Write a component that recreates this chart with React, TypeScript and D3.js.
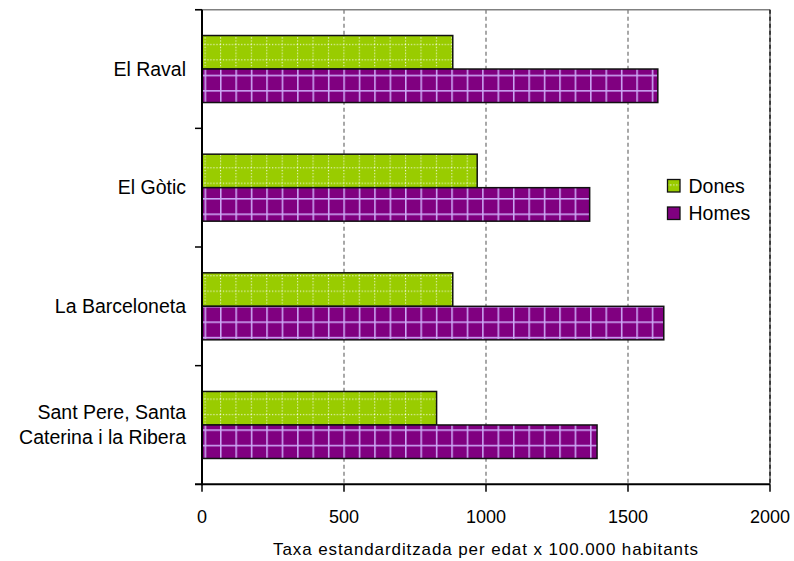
import React from "react";
import * as d3 from "d3";

const categories = ["El Raval", "El Gòtic", "La Barceloneta", "Sant Pere, Santa\nCaterina i la Ribera"];
const series = ["Dones", "Homes"];
const dones = [883, 969, 883, 826];
const homes = [1605, 1365, 1626, 1391];
const xTicks = [0, 500, 1000, 1500, 2000];
const xTitle = "Taxa estandarditzada per edat x 100.000 habitants";

const W = 794, H = 561;
const L = 202, R = 770, T = 9.7, B = 484.3;
const FONT = "'Liberation Sans', Arial, sans-serif";

export default function App() {
  const x = d3.scaleLinear().domain([0, 2000]).range([L, R]);
  const y = d3.scaleBand<string>().domain(categories).range([T, B]).padding(0);
  const groupH = 67;
  const inner = d3.scaleBand<string>().domain(series).range([0, groupH]).padding(0);
  const values = [dones, homes];
  const fills = ["url(#pGreen)", "url(#pPurple)"];
  const legendFills = ["url(#lgGreen)", "#800080"];
  const P = 15.42;

  return (
    <svg width={W} height={H} style={{ position: "absolute", left: 0, top: 0, background: "#fff" }} fontFamily={FONT}>
      <defs>
        <pattern id="pGreen" patternUnits="userSpaceOnUse" width={P} height={P} x={4.1} y={13}>
          <rect width={P} height={P} fill="#99CC00" />
          <line x1={0} y1={0.5} x2={P} y2={0.5} stroke="#ffffff" strokeWidth={1.2} strokeDasharray="1 2" opacity={0.9} />
          <line x1={0.5} y1={0} x2={0.5} y2={P} stroke="#ffffff" strokeWidth={1.2} strokeDasharray="1 2" opacity={0.9} />
        </pattern>
        <pattern id="lgGreen" patternUnits="userSpaceOnUse" width={P} height={P} x={666} y={174.5}>
          <rect width={P} height={P} fill="#99CC00" />
          <line x1={0} y1={0.5} x2={P} y2={0.5} stroke="#ffffff" strokeWidth={1.2} strokeDasharray="1 2" opacity={0.9} />
        </pattern>
        <pattern id="pPurple" patternUnits="userSpaceOnUse" width={P} height={P} x={4.1} y={13}>
          <rect width={P} height={P} fill="#800080" />
          <line x1={0} y1={0.75} x2={P} y2={0.75} stroke="#CCA8F5" strokeWidth={1.6} />
          <line x1={0.75} y1={0} x2={0.75} y2={P} stroke="#CCA8F5" strokeWidth={1.6} />
        </pattern>
      </defs>

      {/* gridlines */}
      {xTicks.slice(1, -1).map((t) => (
        <line key={t} x1={x(t)} x2={x(t)} y1={T} y2={B} stroke="#8c8c8c" strokeWidth={1.5} strokeDasharray="4 3" />
      ))}
      {/* plot border top and right */}
      <line x1={195} x2={R} y1={T} y2={T} stroke="#808080" strokeWidth={1.5} />
      <line x1={R} x2={R} y1={T} y2={B} stroke="#666" strokeWidth={1.5} />
      <line x1={R} x2={R} y1={T} y2={B} stroke="#222" strokeWidth={1.5} strokeDasharray="4 3" />

      {/* bars */}
      {categories.map((c, i) => {
        const y0 = (y(c) as number) + (y.bandwidth() - groupH) / 2;
        return series.map((s, j) => (
          <rect
            key={c + s}
            x={x(0)}
            y={y0 + (inner(s) as number)}
            width={x(values[j][i]) - x(0)}
            height={inner.bandwidth()}
            fill={fills[j]}
            stroke="#111"
            strokeWidth={1.5}
          />
        ));
      })}

      {/* axes */}
      <line x1={L} x2={L} y1={T} y2={B + 1} stroke="#000" strokeWidth={2} />
      <line x1={L - 7} x2={R} y1={B} y2={B} stroke="#000" strokeWidth={2} />
      {categories.map((c) => (
        <line key={"t" + c} x1={L - 7} x2={L} y1={y(c) as number} y2={y(c) as number} stroke="#000" strokeWidth={1.5} />
      ))}
      {xTicks.map((t) => (
        <line key={"xt" + t} x1={x(t)} x2={x(t)} y1={B} y2={B + 7.5} stroke="#000" strokeWidth={1.5} />
      ))}

      {/* x tick labels */}
      {xTicks.map((t) => (
        <text key={"xl" + t} x={x(t)} y={523} textAnchor="middle" fontSize={18} fill="#000">
          {t}
        </text>
      ))}

      {/* category labels */}
      {categories.map((c) => {
        const lines = c.split("\n");
        const cy = (y(c) as number) + y.bandwidth() / 2;
        const lh = 24.5;
        return (
          <text key={"cl" + c} x={186} textAnchor="end" fontSize={19.5} fill="#000">
            {lines.map((ln, k) => (
              <tspan key={k} x={186} y={cy + 6.5 + (k - (lines.length - 1) / 2) * lh}>
                {ln}
              </tspan>
            ))}
          </text>
        );
      })}

      {/* x title */}
      <text x={(L + R) / 2} y={555} textAnchor="middle" fontSize={17} letterSpacing={0.9} fill="#000">
        {xTitle}
      </text>

      {/* legend */}
      {series.map((s, j) => (
        <g key={"lg" + s} transform={`translate(667.5, ${179.5 + j * 27.5})`}>
          <rect width={12.5} height={12.5} fill={legendFills[j]} stroke="#111" strokeWidth={1.3} />
          <text x={21} y={13} fontSize={19.5} fill="#000">
            {s}
          </text>
        </g>
      ))}
    </svg>
  );
}
